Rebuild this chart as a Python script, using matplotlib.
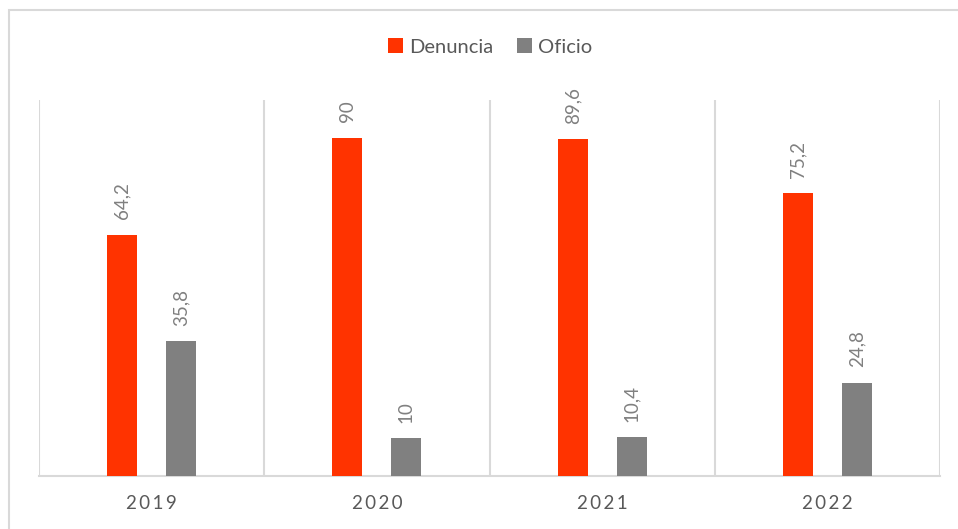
import matplotlib.pyplot as plt
import numpy as np
from matplotlib.patches import Rectangle

years = ["2019", "2020", "2021", "2022"]
denuncia = [64.2, 90, 89.6, 75.2]
oficio = [35.8, 10, 10.4, 24.8]
series_names = ["Denuncia", "Oficio"]
colors = ["#FF3300", "#808080"]

plt.rcParams["font.family"] = ["Lato", "DejaVu Sans"]


def fmt(v):
    s = f"{v:g}"
    return s.replace(".", ",")


def main():
    fig = plt.figure(figsize=(9.58, 5.29), dpi=100)
    ax = fig.add_axes([39 / 958, 53 / 529, 901 / 958, 376 / 529])

    x = np.arange(len(years))
    off = 0.131
    w = 0.133
    for vals, name, c, sgn in [(denuncia, series_names[0], colors[0], -1),
                               (oficio, series_names[1], colors[1], 1)]:
        bars = ax.bar(x + sgn * off, vals, width=w, color=c, label=name, zorder=3)
        for b, v in zip(bars, vals):
            ax.annotate(fmt(v), (b.get_x() + b.get_width() / 2, v),
                        xytext=(0, 11), textcoords="offset points",
                        rotation=90, ha="center", va="bottom",
                        fontsize=13.5, color="#808080")

    ax.set_xlim(-0.5, 3.5)
    ax.set_ylim(0, 100)
    for gx in np.arange(-0.5, 4, 1):
        ax.axvline(gx, color="#D9D9D9", lw=1.5, zorder=1)
    for s in ["top", "right", "left"]:
        ax.spines[s].set_visible(False)
    ax.spines["bottom"].set_color("#D9D9D9")
    ax.spines["bottom"].set_linewidth(1.5)
    ax.set_yticks([])
    ax.set_xticks(x)
    ax.set_xticklabels(["\u2009".join(y) for y in years], fontsize=13.5,
                       color="#595959")
    ax.tick_params(axis="x", length=0, pad=14)

    leg = fig.legend(loc="center", bbox_to_anchor=(490 / 958, 1 - 47 / 529),
                     ncol=2, frameon=False, fontsize=14.5, handlelength=0.75,
                     handleheight=0.75, columnspacing=1.2, handletextpad=0.3)
    for t in leg.get_texts():
        t.set_color("#595959")

    fig.patches.append(Rectangle((9 / 958, -0.1), 1.2, (529 - 10) / 529 + 0.1,
                                 transform=fig.transFigure, fill=False,
                                 edgecolor="#D9D9D9", lw=1.5))
    fig.savefig("out.png", dpi=100)


if __name__ == "__main__":
    main()
